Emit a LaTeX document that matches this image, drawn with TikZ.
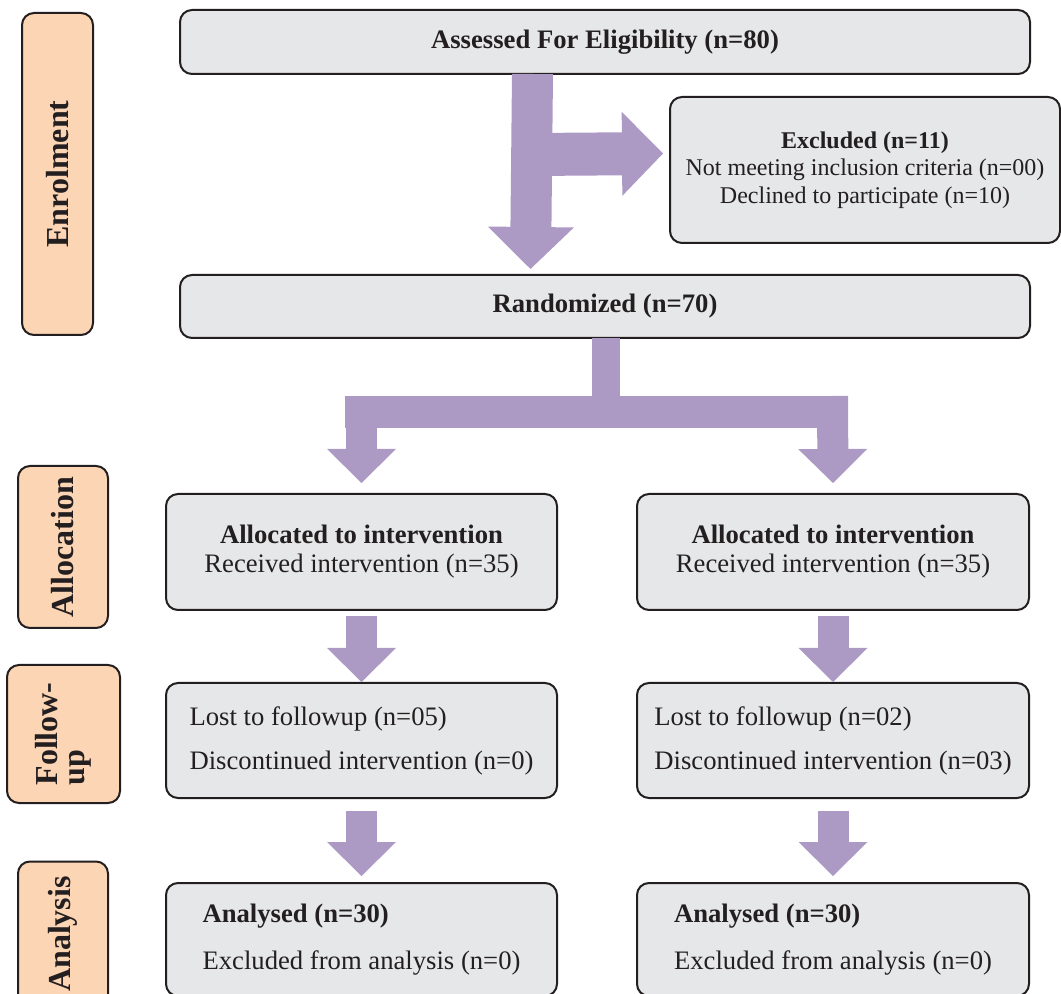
\documentclass[tikz,border=0pt]{standalone}
\usepackage{fontspec}
\setmainfont{Liberation Serif}
\usetikzlibrary{arrows.meta,calc}
\definecolor{boxgray}{HTML}{E6E7E8}
\definecolor{peach}{HTML}{FCD5B5}
\definecolor{arrowpurple}{HTML}{AC9AC4}
\definecolor{edgecol}{HTML}{231F20}
\begin{document}
\begin{tikzpicture}[x=0.75pt,y=-0.75pt,
  gbox/.style={draw=edgecol, line width=1.5pt, fill=boxgray, rounded corners=9pt,
    inner sep=0pt, text=edgecol, font=\fontsize{20}{21.75}\selectfont},
  sidebox/.style={draw=edgecol, line width=1.5pt, fill=peach, rounded corners=9pt,
    inner sep=0pt, text=edgecol, rotate=90, font=\bfseries\fontsize{24}{20}\selectfont},
  flow/.style={draw=arrowpurple, line width=#1},
  tipA/.style={-{Triangle[width=#1,length=25.5pt,line width=0pt]}}
]
\useasboundingbox (0,0) rectangle (1061,994);
\clip (0,0) rectangle (1061,994);

% side labels
\node[sidebox, minimum width=241.5pt, minimum height=53.25pt] (enrol) at (57.5,174) {Enrolment};
\node[sidebox, minimum width=121.5pt, minimum height=67.5pt] (allocS) at (63,547) {Allocation};
\node[sidebox, minimum width=103.5pt, minimum height=84.75pt, align=left] (followS) at (63.5,734) {Follow-\\up};
\node[sidebox, minimum width=108.75pt, minimum height=67.5pt] (analS) at (63,934) {Analysis};

% main boxes
\node[gbox, minimum width=637.5pt, minimum height=48pt] (assess) at (605,42) {\bfseries Assessed For Eligibility (n=80)};
\node[gbox, minimum width=292.5pt, minimum height=109.5pt, align=center,
  font=\fontsize{18}{20.6}\selectfont] (excl) at (865,170)
  {\textbf{Excluded (n=11)}\\Not meeting inclusion criteria (n=00)\\Declined to participate (n=10)};
\node[gbox, minimum width=637.5pt, minimum height=47.25pt] (rand) at (605,306.5) {\bfseries Randomized (n=70)};

\node[gbox, minimum width=293.25pt, minimum height=87pt, align=center] (allocL) at (361.5,552)
  {\textbf{Allocated to intervention}\\Received intervention (n=35)};
\node[gbox, minimum width=294pt, minimum height=87pt, align=center] (allocR) at (833,552)
  {\textbf{Allocated to intervention}\\Received intervention (n=35)};

\node[gbox, minimum width=293.25pt, minimum height=86.25pt, align=left,
  font=\fontsize{20}{33}\selectfont] (followL) at (361.5,740.5)
  {Lost to followup (n=05)\\Discontinued intervention (n=0)};
\node[gbox, minimum width=294pt, minimum height=86.25pt, align=left,
  font=\fontsize{20}{33}\selectfont] (followR) at (833,740.5)
  {Lost to followup (n=02)\\Discontinued intervention (n=03)};

\node[gbox, minimum width=293.25pt, minimum height=84.75pt, align=left,
  font=\fontsize{20}{35.25}\selectfont] (analL) at (361.5,939.5)
  {\textbf{Analysed (n=30)}\\Excluded from analysis (n=0)};
\node[gbox, minimum width=294pt, minimum height=84.75pt, align=left,
  font=\fontsize{20}{35.25}\selectfont] (analR) at (833,939.5)
  {\textbf{Analysed (n=30)}\\Excluded from analysis (n=0)};

% top T arrow
\draw[flow=30.75pt, -{Triangle[width=64.5pt,length=31.5pt,line width=0pt]}]
  ($(assess.south)+(-72.5,-1)$) -- ($(rand.north)+(-74.5,-5)$);
\draw[flow=32.25pt, -{Triangle[width=63pt,length=30.75pt,line width=0pt]}]
  ($(assess.south)+(-72.5,79.5)$) -- ($(excl.west)+(-6,-16.5)$);

% split arrow
\draw[flow=21pt] ($(rand.south)+(1,-1)$) -- ($(rand.south)+(1,73)$);
\draw[flow=24pt] ($(rand.south)+(-260,73)$) -- ($(rand.south)+(243,73)$);
\draw[flow=23.25pt, tipA=51.75pt] ($(rand.south)+(-243.5,57)$) -- ($(allocL.north)+(0,-10)$);
\draw[flow=23.25pt, tipA=51.75pt] ($(rand.south)+(227.5,57)$) -- ($(allocR.north)+(0,-10)$);

% straight arrows
\draw[flow=23.25pt, tipA=51.75pt] ($(allocL.south)+(0,5)$) -- (followL.north);
\draw[flow=23.25pt, tipA=51.75pt] ($(allocR.south)+(0,5)$) -- (followR.north);
\draw[flow=23.25pt, tipA=51.75pt] ($(followL.south)+(0,12)$) -- ($(analL.north)+(0,-6)$);
\draw[flow=23.25pt, tipA=51.75pt] ($(followR.south)+(0,12)$) -- ($(analR.north)+(0,-6)$);
\end{tikzpicture}
\end{document}
